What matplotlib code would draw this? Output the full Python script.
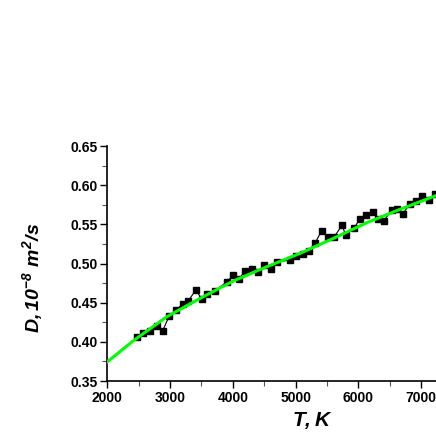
import matplotlib.pyplot as plt
from matplotlib.ticker import MultipleLocator

plt.rcParams['font.family'] = 'Liberation Sans'
plt.rcParams['mathtext.fontset'] = 'custom'
plt.rcParams['mathtext.rm'] = 'Liberation Sans:italic:bold'
plt.rcParams['mathtext.it'] = 'Liberation Sans:italic:bold'

# measured diffusion coefficient
T_data = [2468, 2563, 2680, 2796, 2882, 2987, 3094, 3200, 3290, 3412, 3508, 3592,
          3715, 3901, 4006, 4102, 4193, 4299, 4405, 4495, 4602, 4697, 4909, 5005,
          5111, 5207, 5307, 5414, 5519, 5610, 5737, 5801, 5928, 6024, 6119, 6236,
          6305, 6406, 6528, 6608, 6703, 6820, 6915, 7006, 7127, 7218]
D_data = [0.4066, 0.4117, 0.4138, 0.4202, 0.4142, 0.4330, 0.4406, 0.4483, 0.4525,
          0.4662, 0.4543, 0.4606, 0.4653, 0.4764, 0.4853, 0.4806, 0.4908, 0.4926,
          0.4891, 0.4977, 0.4934, 0.5019, 0.5044, 0.5095, 0.5121, 0.5163, 0.5257,
          0.5418, 0.5342, 0.5334, 0.5487, 0.5364, 0.5449, 0.5572, 0.5619, 0.5653,
          0.5568, 0.5546, 0.5683, 0.5692, 0.5632, 0.5759, 0.5798, 0.5862, 0.5811,
          0.5887]

# fitted curve (green)
T_fit = [2000, 2415, 2946, 3476, 4006, 4538, 5068, 5599, 6130, 6661, 7218, 7300]
D_fit = [0.3746, 0.4015, 0.4321, 0.4555, 0.4777, 0.4959, 0.5130, 0.5321, 0.5521,
         0.5692, 0.5862, 0.5885]

fig = plt.figure(figsize=(4.36, 4.36), dpi=100)
ax = fig.add_axes([0.246, 0.126, 0.792, 0.539])

ax.plot(T_data, D_data, color='black', lw=0.8, marker='s', ms=4.5, zorder=2)
ax.plot(T_fit, D_fit, color='#00ff00', lw=2.2, zorder=3)

ax.set_xlim(2000, 7500)
ax.set_ylim(0.35, 0.65)
ax.xaxis.set_major_locator(MultipleLocator(1000))
ax.xaxis.set_minor_locator(MultipleLocator(500))
ax.yaxis.set_major_locator(MultipleLocator(0.05))
ax.yaxis.set_minor_locator(MultipleLocator(0.025))
ax.yaxis.set_major_formatter(plt.FormatStrFormatter('%.2f'))

for s in ['top', 'right']:
    ax.spines[s].set_visible(False)
for s in ['left', 'bottom']:
    ax.spines[s].set_linewidth(1.2)

ax.tick_params(which='major', direction='out', length=5, width=1, labelsize=10, pad=2)
ax.tick_params(which='minor', direction='out', length=3.5, width=0.8, color='#555555')
for lab in ax.get_xticklabels() + ax.get_yticklabels():
    lab.set_fontweight('bold')

ax.set_xlabel(r'$T,K$', fontsize=15)
ax.set_ylabel(r'$D,10^{-8}\ m^2/s$', fontsize=14)
# label positions in figure pixels
ax.xaxis.set_label_coords(312 / 436, (436 - 410) / 436, transform=fig.transFigure)
ax.yaxis.set_label_coords(45 / 436, (436 - 278) / 436, transform=fig.transFigure)

fig.savefig('out.png', dpi=100)
